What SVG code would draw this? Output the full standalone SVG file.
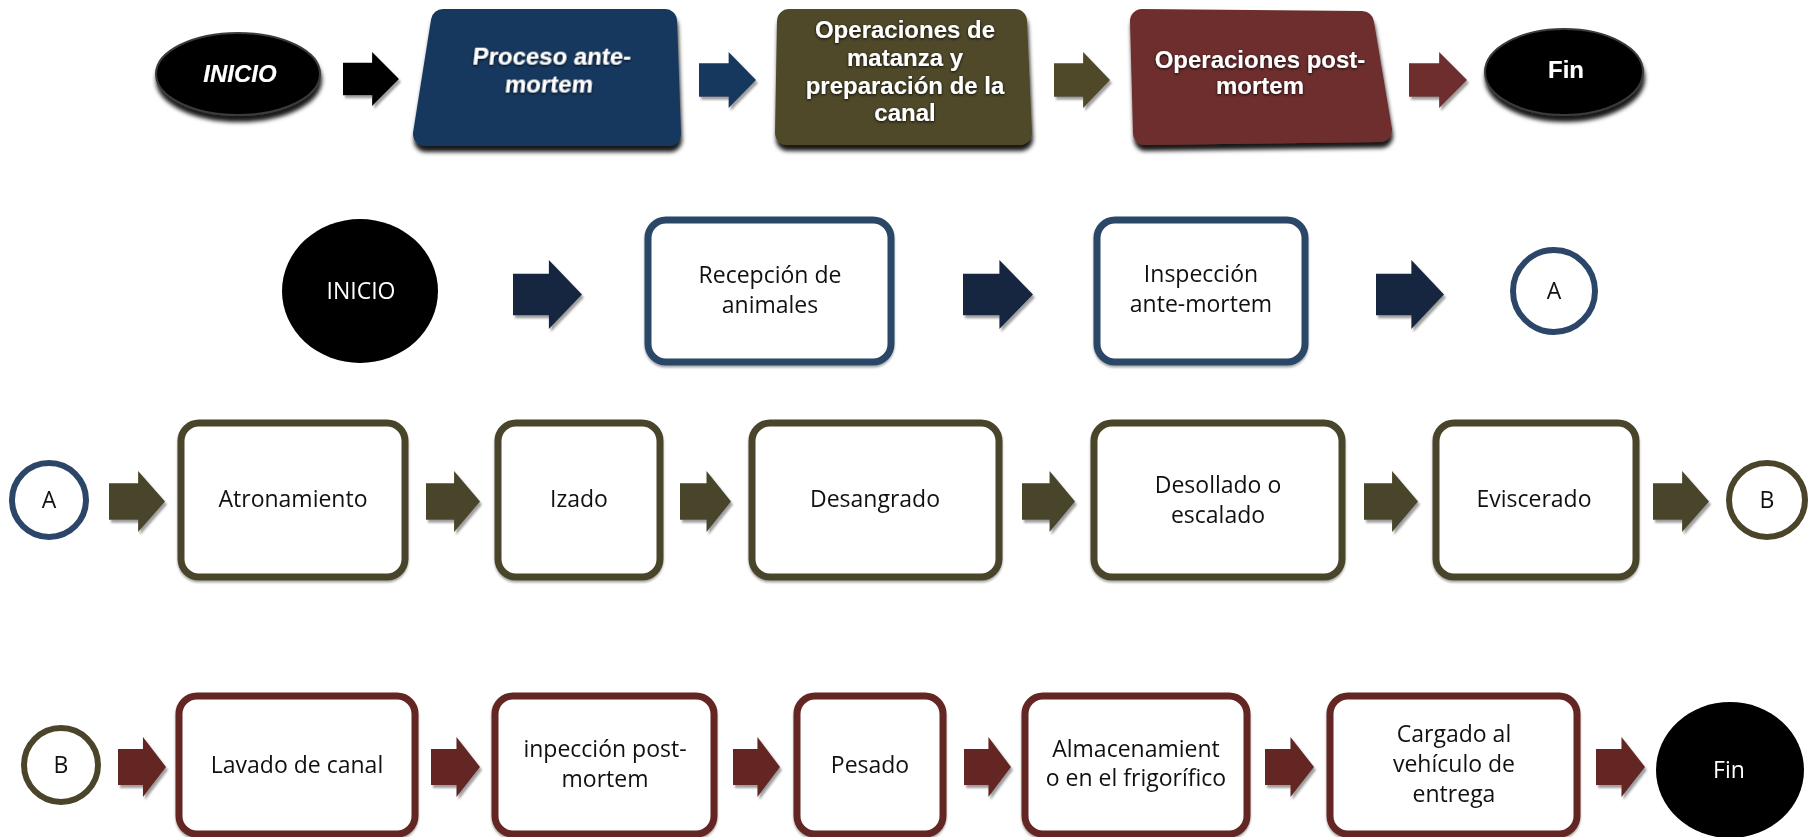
<svg xmlns="http://www.w3.org/2000/svg" xmlns:xlink="http://www.w3.org/1999/xlink" width="1809" height="837" viewBox="0 0 1809 837">
<style>
.t{font-family:"Open Sans","Liberation Sans",sans-serif;font-size:23px;fill:#111;text-anchor:middle}
.tw{font-family:"Open Sans","Liberation Sans",sans-serif;font-size:23px;fill:#fff;text-anchor:middle}
.h{font-family:"Liberation Sans",Arial,sans-serif;font-weight:bold;font-size:24px;fill:#fff;text-anchor:middle}
.bn{fill:#fff;stroke:#2B4668;stroke-width:7}
.bo{fill:#fff;stroke:#4A452A;stroke-width:7}
.bm{fill:#fff;stroke:#632523;stroke-width:7}
</style>
<defs>
<path id="arr" d="M0,0.2 H0.52 V0 L1,0.5 L0.52,1 V0.8 H0 Z"/>
<filter id="sh" x="-10%" y="-10%" width="125%" height="130%">
<feDropShadow dx="1" dy="6" stdDeviation="2" flood-color="#000" flood-opacity="0.9"/>
</filter>
<filter id="ash" x="-10%" y="-10%" width="130%" height="130%">
<feDropShadow dx="2" dy="3" stdDeviation="1.2" flood-color="#777" flood-opacity="0.7"/>
</filter>
<filter id="tsh" x="-10%" y="-20%" width="120%" height="150%">
<feDropShadow dx="0" dy="1" stdDeviation="1.5" flood-color="#000" flood-opacity="0.9"/>
</filter>
<filter id="bsh" x="-5%" y="-5%" width="110%" height="112%">
<feDropShadow dx="0" dy="2" stdDeviation="1" flood-color="#000" flood-opacity="0.35"/>
</filter>
</defs>
<rect width="1809" height="837" fill="#fff"/>

<g id="connectors" filter="url(#ash)">
<use xlink:href="#arr" href="#arr" fill="#000" transform="translate(343,52) scale(56,54)"/>
<use xlink:href="#arr" href="#arr" fill="#17375E" transform="translate(699,52) scale(57,56)"/>
<use xlink:href="#arr" href="#arr" fill="#4F4A2C" transform="translate(1054,52) scale(56,56)"/>
<use xlink:href="#arr" href="#arr" fill="#6E2F2D" transform="translate(1409,52) scale(58,56)"/>

<use xlink:href="#arr" href="#arr" fill="#142840" transform="translate(513,260) scale(69,69)"/>
<use xlink:href="#arr" href="#arr" fill="#142840" transform="translate(963,260) scale(70,69)"/>
<use xlink:href="#arr" href="#arr" fill="#142840" transform="translate(1376,260) scale(68,69)"/>

<use xlink:href="#arr" href="#arr" fill="#4A452A" transform="translate(109,471) scale(56,61)"/>
<use xlink:href="#arr" href="#arr" fill="#4A452A" transform="translate(426,471) scale(54,61)"/>
<use xlink:href="#arr" href="#arr" fill="#4A452A" transform="translate(680,471) scale(51,61)"/>
<use xlink:href="#arr" href="#arr" fill="#4A452A" transform="translate(1022,471) scale(53,61)"/>
<use xlink:href="#arr" href="#arr" fill="#4A452A" transform="translate(1364,471) scale(54,61)"/>
<use xlink:href="#arr" href="#arr" fill="#4A452A" transform="translate(1653,471) scale(56,61)"/>

<use xlink:href="#arr" href="#arr" fill="#632523" transform="translate(118,737) scale(48,60)"/>
<use xlink:href="#arr" href="#arr" fill="#632523" transform="translate(431,737) scale(49,60)"/>
<use xlink:href="#arr" href="#arr" fill="#632523" transform="translate(733,737) scale(47,60)"/>
<use xlink:href="#arr" href="#arr" fill="#632523" transform="translate(964,737) scale(47,60)"/>
<use xlink:href="#arr" href="#arr" fill="#632523" transform="translate(1265,737) scale(49,60)"/>
<use xlink:href="#arr" href="#arr" fill="#632523" transform="translate(1596,737) scale(49,60)"/>
</g>

<!-- Row 1 -->
<g id="top-inicio">
<ellipse cx="238" cy="74" rx="82" ry="41" fill="#000" stroke="#3a3a3a" stroke-width="2" filter="url(#sh)"/>
<text class="h" x="240" y="82" font-size="27" font-style="italic" filter="url(#tsh)">INICIO</text>
</g>
<g id="top-antemortem">
<polygon points="443,21 665,21 669,134 425,134" fill="#17375E" stroke="#17375E" stroke-width="24" stroke-linejoin="round" filter="url(#sh)"/>
<g filter="url(#tsh)" transform="translate(550,0) skewX(-6) translate(-550,0)">
<text class="h" x="558" y="65" font-size="25">Proceso ante-</text>
<text class="h" x="558" y="92" font-size="25">mortem</text>
</g>
</g>
<g id="top-matanza">
<polygon points="789,21 1015,21 1020,133 787,133" fill="#4F4A2C" stroke="#4F4A2C" stroke-width="24" stroke-linejoin="round" filter="url(#sh)"/>
<g filter="url(#tsh)">
<text class="h" x="905" y="38">Operaciones de</text>
<text class="h" x="905" y="66">matanza y</text>
<text class="h" x="905" y="94">preparación de la</text>
<text class="h" x="905" y="121">canal</text>
</g>
</g>
<g id="top-postmortem">
<polygon points="1142,21 1362,23 1380,130 1145,133" fill="#6E2F2D" stroke="#6E2F2D" stroke-width="24" stroke-linejoin="round" filter="url(#sh)"/>
<g filter="url(#tsh)">
<text class="h" x="1260" y="68" font-size="25">Operaciones post-</text>
<text class="h" x="1260" y="94" font-size="25">mortem</text>
</g>
</g>
<g id="top-fin">
<ellipse cx="1564" cy="72" rx="79" ry="43" fill="#000" stroke="#3a3a3a" stroke-width="2" filter="url(#sh)"/>
<text class="h" x="1566" y="78" font-size="24" filter="url(#tsh)">Fin</text>
</g>

<!-- Row 2 -->
<g id="inicio">
<ellipse cx="360" cy="291" rx="78" ry="72" fill="#000"/>
<text class="tw" x="361" y="299">INICIO</text>
</g>
<g id="recepcion">
<rect class="bn" x="648" y="220" width="243" height="142" rx="18" filter="url(#bsh)"/>
<text class="t" x="770" y="283">Recepción de</text>
<text class="t" x="770" y="313">animales</text>
</g>
<g id="inspeccion">
<rect class="bn" x="1097" y="220" width="208" height="142" rx="18" filter="url(#bsh)"/>
<text class="t" x="1201" y="282">Inspección</text>
<text class="t" x="1201" y="312">ante-mortem</text>
</g>
<g id="conector-a1">
<circle cx="1554" cy="291" r="41" fill="#fff" stroke="#2B4668" stroke-width="6"/>
<text class="t" x="1554" y="299">A</text>
</g>

<!-- Row 3 -->
<g id="conector-a2">
<circle cx="49" cy="500" r="37" fill="#fff" stroke="#2B4668" stroke-width="6"/>
<text class="t" x="49" y="508">A</text>
</g>
<g id="atronamiento">
<rect class="bo" x="181" y="423" width="224" height="154" rx="18" filter="url(#bsh)"/>
<text class="t" x="293" y="507">Atronamiento</text>
</g>
<g id="izado">
<rect class="bo" x="498" y="423" width="162" height="154" rx="18" filter="url(#bsh)"/>
<text class="t" x="579" y="507">Izado</text>
</g>
<g id="desangrado">
<rect class="bo" x="752" y="423" width="247" height="154" rx="18" filter="url(#bsh)"/>
<text class="t" x="875" y="507">Desangrado</text>
</g>
<g id="desollado">
<rect class="bo" x="1094" y="423" width="248" height="154" rx="18" filter="url(#bsh)"/>
<text class="t" x="1218" y="493">Desollado o</text>
<text class="t" x="1218" y="523">escalado</text>
</g>
<g id="eviscerado">
<rect class="bo" x="1436" y="423" width="200" height="154" rx="18" filter="url(#bsh)"/>
<text class="t" x="1534" y="507">Eviscerado</text>
</g>
<g id="conector-b1">
<ellipse cx="1767" cy="500" rx="38" ry="37" fill="#fff" stroke="#4A452A" stroke-width="6"/>
<text class="t" x="1767" y="508">B</text>
</g>

<!-- Row 4 -->
<g id="conector-b2">
<circle cx="61" cy="765" r="37" fill="#fff" stroke="#4A452A" stroke-width="6"/>
<text class="t" x="61" y="773">B</text>
</g>
<g id="lavado">
<rect class="bm" x="179" y="696" width="236" height="138" rx="18" filter="url(#bsh)"/>
<text class="t" x="297" y="773">Lavado de canal</text>
</g>
<g id="inpeccion">
<rect class="bm" x="495" y="696" width="219" height="138" rx="18" filter="url(#bsh)"/>
<text class="t" x="605" y="757">inpección post-</text>
<text class="t" x="605" y="787">mortem</text>
</g>
<g id="pesado">
<rect class="bm" x="797" y="696" width="146" height="138" rx="18" filter="url(#bsh)"/>
<text class="t" x="870" y="773">Pesado</text>
</g>
<g id="almacenamiento">
<rect class="bm" x="1025" y="696" width="222" height="138" rx="18" filter="url(#bsh)"/>
<text class="t" x="1136" y="757">Almacenamient</text>
<text class="t" x="1136" y="786">o en el frigorífico</text>
</g>
<g id="cargado">
<rect class="bm" x="1330" y="696" width="247" height="138" rx="18" filter="url(#bsh)"/>
<text class="t" x="1454" y="742">Cargado al</text>
<text class="t" x="1454" y="772">vehículo de</text>
<text class="t" x="1454" y="802">entrega</text>
</g>
<g id="fin">
<ellipse cx="1730" cy="770" rx="74" ry="68" fill="#000"/>
<text class="tw" x="1729" y="778">Fin</text>
</g>
</svg>
